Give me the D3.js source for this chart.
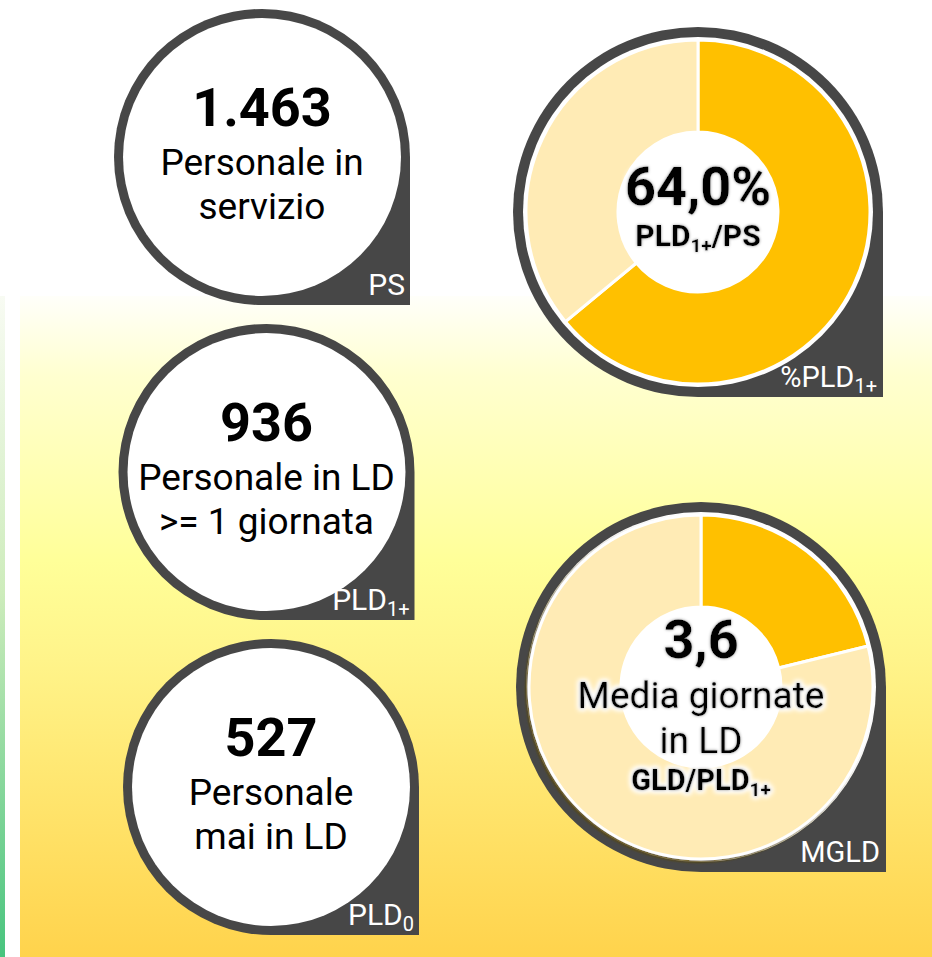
<!DOCTYPE html>
<html>
<head>
<meta charset="utf-8">
<script src="https://cdn.jsdelivr.net/npm/d3@7"></script>
<style>
	html, body { margin: 0; padding: 0; background: #fff; }
	#app { width: 932px; height: 957px; }
	text { font-family: Roboto, "Noto Sans", sans-serif; }
</style>
</head>
<body>
<div id="app"></div>
<script>
// valori dei tre indicatori
const valori = [1463, 936, 527];
const descrizioni = [
	['Personale in', 'servizio'],
	['Personale in LD', '>= 1 giornata'],
	['Personale', 'mai in LD']
];
const sigle = [['PS', ''], ['PLD', '1+'], ['PLD', '0']];

// ciambelle
const percentualePLD = [64.0, 36.0];      // PLD1+/PS, resto
const giorniMedia = 3.6;
const giorniMax = 17;                      // stimato
const mediaGiorni = [giorniMedia, giorniMax - giorniMedia];
const sigleCiambelle = [['%PLD', '1+'], ['MGLD', '']];
const testiCiambelle = [
	{ valore: 64.0, suffisso: '%', righe: [], formula: [['PLD', '1+'], ['/PS', '']] },
	{ valore: 3.6, suffisso: '', righe: ['Media giornate', 'in LD'], formula: [['GLD/PLD', '1+']] }
];
const coloriFette = ['#ffc000', '#ffebb5'];

const it = d3.formatLocale({ decimal: ',', thousands: '.', grouping: [3], currency: ['', '€'] });
const fmtInt = it.format(',d'),
	fmtDec = it.format('.1f');

const width = 932, height = 957, dark = '#474747';

const svg = d3.select('#app').append('svg')
	.attr('width', width)
	.attr('height', height);

const defs = svg.append('defs');

const bg = defs.append('linearGradient').attr('id', 'bg')
	.attr('x1', 0).attr('y1', 0).attr('x2', 0).attr('y2', 1);
[[0, '#fffffa'], [0.12, '#ffffd0'], [0.4, '#ffff99'], [0.55, '#fff48a'], [1, '#ffd34c']]
	.forEach(s => bg.append('stop').attr('offset', s[0]).attr('stop-color', s[1]));

const green = defs.append('linearGradient').attr('id', 'green')
	.attr('x1', 0).attr('y1', 0).attr('x2', 0).attr('y2', 1);
[[0, '#f8fbf3'], [0.45, '#cdecbb'], [1, '#48c47e']]
	.forEach(s => green.append('stop').attr('offset', s[0]).attr('stop-color', s[1]));

const halo = defs.append('filter').attr('id', 'halo')
	.attr('x', '-20%').attr('y', '-40%').attr('width', '140%').attr('height', '180%');
halo.append('feMorphology').attr('in', 'SourceAlpha').attr('operator', 'dilate').attr('radius', 2).attr('result', 'd');
halo.append('feGaussianBlur').attr('in', 'd').attr('stdDeviation', 2.5).attr('result', 'b');
halo.append('feFlood').attr('flood-color', '#ffffff');
halo.append('feComposite').attr('in2', 'b').attr('operator', 'in').attr('result', 'w');
halo.append('feGaussianBlur').attr('in', 'SourceAlpha').attr('stdDeviation', 1.8).attr('result', 'g');
halo.append('feFlood').attr('flood-color', '#666');
halo.append('feComposite').attr('in2', 'g').attr('operator', 'in').attr('result', 'gr');
const merge = halo.append('feMerge');
['w', 'w', 'gr', 'SourceGraphic'].forEach(n => merge.append('feMergeNode').attr('in', n));

defs.append('filter').attr('id', 'ombra')
	.attr('x', '-10%').attr('y', '-10%').attr('width', '120%').attr('height', '120%')
	.append('feDropShadow')
	.attr('dx', -2).attr('dy', 2).attr('stdDeviation', 0.8)
	.attr('flood-color', '#5a4810').attr('flood-opacity', 0.9);

// sfondo
svg.append('rect').attr('x', 0).attr('y', 296).attr('width', 5).attr('height', height - 296).attr('fill', 'url(#green)');
svg.append('rect').attr('x', 20).attr('y', 296).attr('width', width - 20).attr('height', height - 296).attr('fill', 'url(#bg)');

function bolla (R, cx, cy) {
	return `M${cx + R},${cy} L${cx + R},${cy + R} L${cx},${cy + R} A${R},${R} 0 1 1 ${cx + R},${cy} Z`;
}

// testo con pedice: ogni parte è [testo, pedice]
function conPedice (t, parti, size, sub) {
	let giu = false;
	parti.forEach(p => {
		t.append('tspan').attr('dy', giu ? -6 : 0).text(p[0]);
		giu = false;
		if (p[1]) {
			t.append('tspan').attr('font-size', sub).attr('dy', 6).text(p[1]);
			giu = true;
		}
	});
}

function sigla (g, parti, x, y, size) {
	const t = g.append('text')
		.attr('x', x).attr('y', y)
		.attr('text-anchor', 'end')
		.attr('fill', '#fff')
		.attr('font-size', size);
	conPedice(t, [parti], size, Math.round(size * 0.68));
}

// cerchi
const yRow = d3.scalePoint().domain(d3.range(valori.length)).range([157, 787]);
const xRow = d3.scaleLinear().domain([0, valori.length - 1]).range([262, 271]);
const R = 148, r = 139;

valori.forEach((v, i) => {
	const cx = xRow(i), cy = yRow(i);
	const g = svg.append('g');
	g.append('path').attr('d', bolla(R, cx, cy)).attr('fill', dark);
	g.append('circle').attr('cx', cx).attr('cy', cy).attr('r', r).attr('fill', '#fff');
	g.append('text')
		.attr('x', cx).attr('y', cy - 31)
		.attr('text-anchor', 'middle')
		.attr('font-weight', 'bold')
		.attr('font-size', 54)
		.text(fmtInt(v));
	descrizioni[i].forEach((l, j) => {
		g.append('text')
			.attr('x', cx).attr('y', cy + 18 + j * 44)
			.attr('text-anchor', 'middle')
			.attr('font-size', 37)
			.text(l);
	});
	sigla(g, sigle[i], cx + R - 5, cy + R - 10, 30);
});

// ciambelle
const yDon = d3.scalePoint().domain([0, 1]).range([212, 687]);
const xDon = d3.scaleLinear().domain([0, 1]).range([698, 701]);
const RD = 185, rw = 175;
const pie = d3.pie().sort(null).value(d => d);
const arc = d3.arc().innerRadius(80).outerRadius(172);

[percentualePLD, mediaGiorni].forEach((dati, i) => {
	const cx = xDon(i), cy = yDon(i), txt = testiCiambelle[i];
	const g = svg.append('g');
	g.append('path').attr('d', bolla(RD, cx, cy)).attr('fill', dark);
	g.append('circle').attr('cx', cx).attr('cy', cy).attr('r', rw).attr('fill', '#fff');
	const ga = g.append('g').attr('transform', `translate(${cx},${cy})`);
	const fette = ga.append('g');
	if (i === 1) fette.attr('filter', 'url(#ombra)');
	fette.selectAll('path')
		.data(pie(dati))
		.enter().append('path')
			.attr('d', arc)
			.attr('fill', (d, k) => coloriFette[k])
			.attr('stroke', '#fff')
			.attr('stroke-width', 3);
	ga.append('circle').attr('r', 80).attr('fill', '#fff');

	const t = ga.append('g');
	const base = i === 0 ? -7 : -29;
	t.append('text')
		.attr('y', base)
		.attr('text-anchor', 'middle')
		.attr('font-weight', 'bold')
		.attr('font-size', 54)
		.attr('filter', 'url(#halo)')
		.text(fmtDec(txt.valore) + txt.suffisso);
	txt.righe.forEach((l, j) => {
		t.append('text')
			.attr('y', base + 50 + j * 45)
			.attr('text-anchor', 'middle')
			.attr('font-size', 37)
			.attr('filter', 'url(#halo)')
			.text(l);
	});
	const yF = i === 0 ? base + 41 : base + 132;
	const fs = i === 0 ? 30 : 29;
	const ft = t.append('text')
		.attr('y', yF)
		.attr('text-anchor', 'middle')
		.attr('font-weight', 'bold')
		.attr('font-size', fs)
		.attr('filter', 'url(#halo)');
	conPedice(ft, txt.formula, fs, 19);
	sigla(g, sigleCiambelle[i], cx + RD - 6, cy + RD - 10, 29);
});
</script>
</body>
</html>
